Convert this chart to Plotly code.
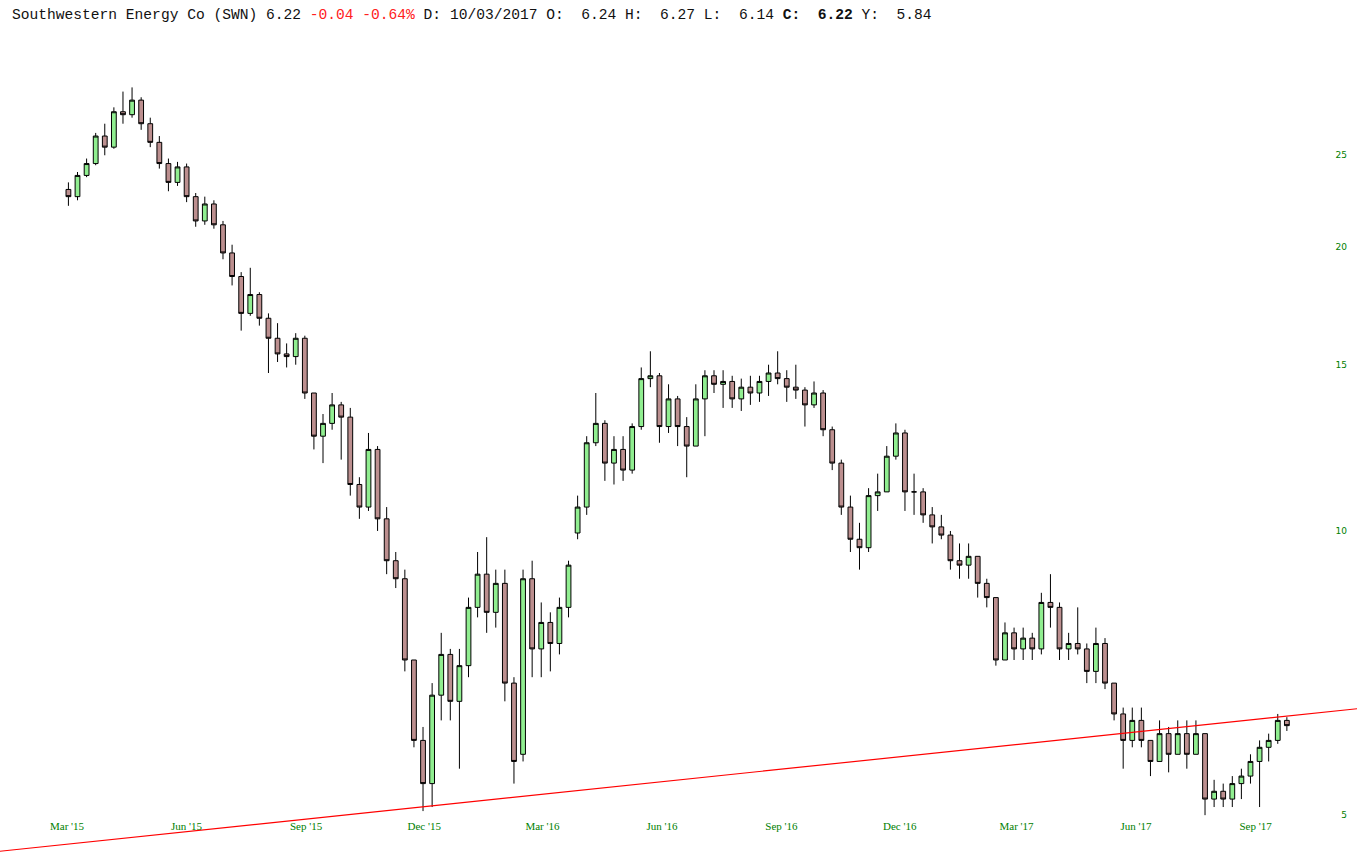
import pandas as pd
import plotly.graph_objects as go

# weekly bars (week starting Monday)
week_start = "2015-03-09"
opens = [23.0, 22.6, 23.8, 24.5, 26.2, 25.5, 27.8, 27.6, 28.6, 27.0,
         25.8, 24.5, 23.4, 24.3, 22.6, 21.3, 22.2, 21.1, 19.7, 18.6,
         17.0, 17.8, 16.8, 16.0, 15.4, 15.3, 16.0, 14.0, 12.6, 13.0,
         13.6, 13.2, 11.2, 10.6, 12.2, 10.3, 9.3, 8.9, 7.3, 6.0,
         5.4, 6.7, 7.4, 6.6, 7.2, 8.3, 9.0, 8.2, 8.8, 6.9,
         5.8, 8.9, 7.5, 8.0, 7.6, 8.3, 9.95, 10.6, 12.4, 13.0,
         11.8, 12.2, 11.6, 12.9, 14.5, 14.6, 12.9, 13.8, 12.9, 12.3,
         13.8, 14.6, 14.3, 14.4, 13.8, 14.2, 14.0, 14.4, 14.7, 14.5,
         14.2, 14.1, 13.6, 14.0, 12.8, 11.8, 10.6, 9.8, 9.6, 10.9,
         11.0, 12.0, 12.7, 11.0, 11.0, 10.4, 10.1, 9.9, 9.3, 9.2,
         9.4, 8.8, 8.5, 7.3, 7.8, 7.5, 7.7, 7.5, 8.4, 8.3,
         7.5, 7.6, 7.5, 7.1, 7.6, 6.9, 6.4, 6.0, 6.3, 6.0,
         5.7, 6.1, 5.8, 6.1, 5.8, 6.1, 5.2, 5.3, 5.2, 5.4,
         5.5, 5.7, 5.9, 6.0, 6.30]
highs = [23.4, 24.0, 24.8, 26.4, 27.0, 28.1, 29.2, 29.5, 28.8, 27.4,
         26.2, 24.8, 24.6, 24.5, 22.8, 22.6, 22.4, 21.3, 20.1, 18.8,
         19.0, 17.9, 17.0, 16.6, 15.8, 16.2, 16.1, 14.0, 13.3, 14.0,
         13.7, 13.5, 11.4, 12.7, 12.3, 10.6, 9.5, 9.1, 7.3, 6.2,
         6.9, 7.8, 7.5, 7.5, 8.5, 9.5, 9.85, 9.1, 9.1, 7.0,
         9.1, 9.3, 8.4, 8.2, 8.5, 9.3, 10.9, 12.6, 14.0, 13.1,
         12.6, 12.6, 13.0, 14.9, 15.5, 14.7, 14.3, 13.9, 13.2, 14.3,
         14.8, 14.8, 14.8, 14.6, 14.5, 14.6, 14.6, 15.0, 15.5, 14.8,
         15.0, 14.2, 14.4, 14.1, 12.9, 11.9, 10.9, 10.2, 11.1, 11.5,
         12.3, 13.0, 12.8, 11.5, 11.1, 10.6, 10.4, 10.0, 9.7, 9.7,
         9.4, 8.9, 8.5, 8.0, 7.9, 7.9, 7.8, 8.6, 9.0, 8.4,
         7.8, 8.3, 7.6, 7.9, 7.7, 6.9, 6.5, 6.5, 6.5, 6.0,
         6.3, 6.2, 6.3, 6.3, 6.3, 6.1, 5.45, 5.4, 5.5, 5.6,
         5.8, 6.0, 6.1, 6.4, 6.35]
lows = [22.1, 22.4, 23.7, 24.4, 25.0, 25.4, 27.0, 27.4, 26.6, 25.5,
        24.2, 22.9, 23.2, 22.3, 21.0, 21.1, 20.9, 19.4, 18.2, 16.3,
        16.9, 16.5, 14.7, 15.1, 14.9, 15.0, 13.8, 12.2, 11.8, 12.8,
        11.9, 10.9, 10.3, 10.5, 10.0, 9.0, 8.7, 7.1, 5.9, 5.05,
        5.1, 6.3, 6.3, 5.6, 7.0, 8.1, 7.8, 7.9, 6.6, 5.4,
        5.7, 7.0, 7.0, 7.1, 7.4, 8.1, 9.8, 10.4, 12.3, 11.3,
        11.2, 11.3, 11.5, 12.8, 14.2, 12.4, 12.7, 12.3, 11.4, 12.3,
        12.6, 14.0, 13.5, 13.5, 13.4, 13.6, 13.7, 13.9, 14.3, 13.7,
        13.8, 12.9, 13.5, 12.6, 11.6, 10.4, 9.5, 9.1, 9.5, 10.5,
        11.0, 11.9, 10.5, 10.4, 10.2, 9.7, 9.8, 9.1, 8.9, 8.9,
        8.5, 8.3, 7.2, 7.3, 7.3, 7.3, 7.3, 7.4, 7.9, 7.3,
        7.3, 7.4, 6.9, 6.9, 6.8, 6.3, 5.6, 5.9, 5.9, 5.5,
        5.7, 5.55, 5.8, 5.6, 5.8, 5.0, 5.1, 5.1, 5.1, 5.2,
        5.4, 5.1, 5.7, 5.95, 6.14]
closes = [22.6, 23.8, 24.5, 26.2, 25.5, 27.8, 27.6, 28.6, 27.0, 25.8,
          24.5, 23.4, 24.3, 22.6, 21.3, 22.2, 21.1, 19.7, 18.6, 17.0,
          17.8, 16.8, 16.0, 15.4, 15.3, 16.0, 14.0, 12.6, 13.0, 13.6,
          13.2, 11.2, 10.6, 12.2, 10.3, 9.3, 8.9, 7.3, 6.0, 5.4,
          6.7, 7.4, 6.6, 7.2, 8.3, 9.0, 8.2, 8.8, 6.9, 5.7,
          8.9, 7.5, 8.0, 7.6, 8.3, 9.2, 10.6, 12.4, 13.0, 11.8,
          12.2, 11.6, 12.9, 14.5, 14.6, 12.9, 13.8, 12.9, 12.3, 13.8,
          14.6, 14.3, 14.4, 13.8, 14.2, 14.0, 14.4, 14.7, 14.5, 14.2,
          14.1, 13.6, 14.0, 12.8, 11.8, 10.6, 9.8, 9.6, 10.9, 11.0,
          12.0, 12.7, 11.0, 11.0, 10.4, 10.1, 9.9, 9.3, 9.2, 9.4,
          8.8, 8.5, 7.3, 7.8, 7.5, 7.7, 7.5, 8.4, 8.3, 7.5,
          7.6, 7.5, 7.1, 7.6, 6.9, 6.4, 6.0, 6.3, 6.0, 5.7,
          6.1, 5.8, 6.1, 5.8, 6.1, 5.2, 5.3, 5.2, 5.4, 5.5,
          5.7, 5.9, 6.0, 6.3, 6.22]
dates = pd.date_range(week_start, periods=len(closes), freq="W-MON")

# support line, drawn between two points beyond the visible window
trend_dates = ["2014-12-01", "2017-12-31"]
trend_prices = [4.51, 6.56]

tick_dates = ["2015-03-01", "2015-06-01", "2015-09-01", "2015-12-01",
              "2016-03-01", "2016-06-01", "2016-09-01", "2016-12-01",
              "2017-03-01", "2017-06-01", "2017-09-01"]
tick_text = ["Mar '15", "Jun '15", "Sep '15", "Dec '15", "Mar '16", "Jun '16",
             "Sep '16", "Dec '16", "Mar '17", "Jun '17", "Sep '17"]
price_ticks = [5, 10, 15, 20, 25]

candles = go.Candlestick(
    x=dates, open=opens, high=highs, low=lows, close=closes,
    increasing=dict(fillcolor="#90ee90", line=dict(color="black", width=1)),
    decreasing=dict(fillcolor="#bc8f8f", line=dict(color="black", width=1)),
    whiskerwidth=0,
    name="SWN",
)

trend = go.Scatter(
    x=trend_dates, y=trend_prices, mode="lines",
    line=dict(color="#ff0000", width=1.2),
    hoverinfo="skip",
)

fig = go.Figure(data=[trend, candles])

# header line
sp = "\u00a0"
header = (
    "Southwestern Energy Co (SWN) 6.22 "
    "<span style='color:#ff2020'>-0.04 -0.64%</span>"
    " D: 10/03/2017 O:" + sp * 2 + "6.24 H:" + sp * 2 + "6.27 L:" + sp * 2 +
    "6.14 <b>C:" + sp * 2 + "6.22</b> Y:" + sp * 2 + "5.84"
)

fig.update_layout(
    width=1357,
    height=868,
    margin=dict(l=0, r=0, t=0, b=0),
    paper_bgcolor="white",
    plot_bgcolor="white",
    showlegend=False,
    boxgap=0.25,
    xaxis=dict(
        type="date",
        range=["2015-01-15 08:00", "2017-11-25"],
        rangeslider=dict(visible=False),
        showgrid=False, zeroline=False, showline=False, ticks="",
        tickvals=tick_dates, ticktext=tick_text,
        ticklabelposition="inside", ticklabelstandoff=33, ticklabelshift=9,
        tickfont=dict(family="Liberation Serif", size=11, color="green"),
    ),
    yaxis=dict(
        type="log",
        range=[0.6430, 1.5624],
        side="right",
        showgrid=False, zeroline=False, showline=False, ticks="",
        tickvals=price_ticks, ticktext=[str(v) for v in price_ticks],
        ticklabelposition="inside", ticklabelstandoff=7,
        tickfont=dict(family="DejaVu Sans", size=9, color="green"),
    ),
    annotations=[
        dict(
            text=header, xref="paper", yref="paper",
            x=0.0074, y=1 - 15 / 868, xanchor="left", yanchor="middle",
            showarrow=False,
            font=dict(family="Liberation Mono", size=14.6, color="#111111"),
        )
    ],
)

fig.write_html("out.html", config={"displayModeBar": False},
               post_script="document.body.style.margin='0';")
